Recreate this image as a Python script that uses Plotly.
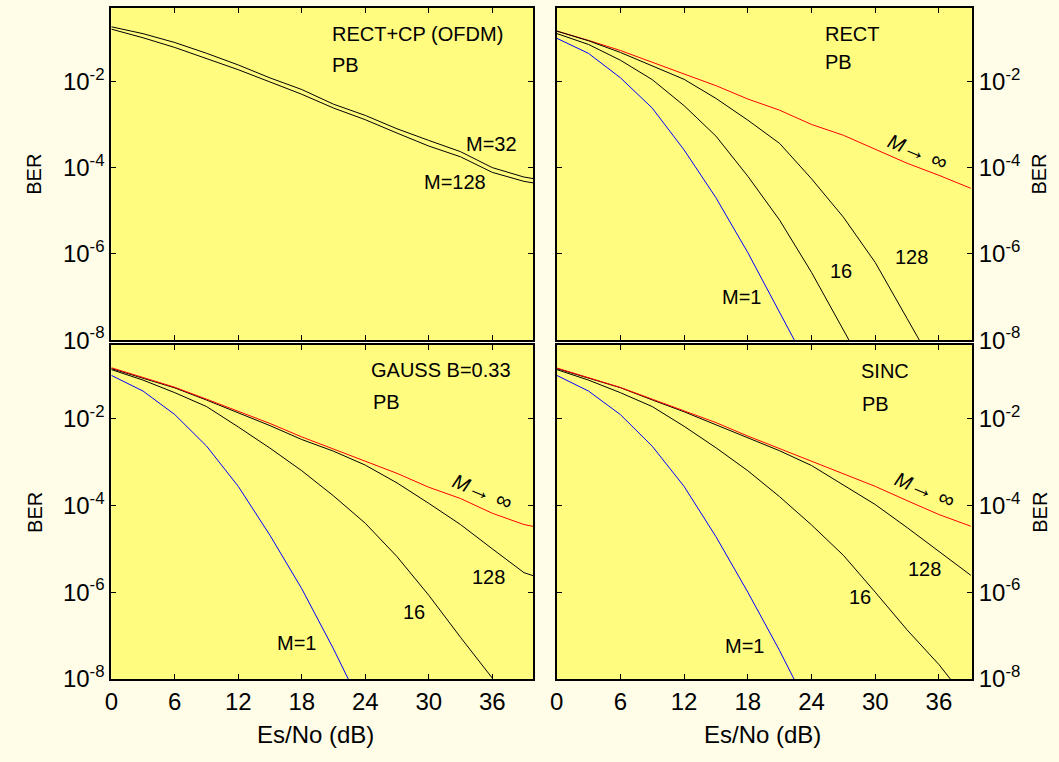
import plotly.graph_objects as go

# ---------------- data ----------------
snr = [0, 3, 6, 9, 12, 15, 18, 21, 24, 27, 30, 33, 36, 39]
snr_left = [0, 3, 6, 9, 12, 15, 18, 21, 24, 27, 30, 33, 36, 39, 40]

# Panel 1: RECT+CP (OFDM), PB
ofdm_m32 = [0.1841, 0.1274, 0.0794, 0.0447, 0.0240, 0.0120, 6.46e-3, 2.95e-3,
            1.62e-3, 7.94e-4, 4.27e-4, 2.34e-4, 1.00e-4, 6.03e-5, 5.50e-5]
ofdm_m128 = [0.1622, 0.1023, 0.0610, 0.0339, 0.0186, 9.66e-3, 5.01e-3, 2.40e-3,
             1.29e-3, 6.31e-4, 3.16e-4, 1.78e-4, 7.76e-5, 4.79e-5, 4.37e-5]

# Panel 2: RECT, PB
rect_m1 = [0.1, 0.04446, 0.01213, 2.40e-3, 2.57e-4, 2.0e-5, 1.07e-6, 4.47e-8, 1.78e-9]
rect_m16 = [0.1288, 0.0716, 0.0309, 0.01096, 2.73e-3, 5.37e-4, 6.31e-5, 6.03e-6,
            3.72e-7, 1.78e-8, 7.94e-10]
rect_m128 = [0.1466, 0.0871, 0.0468, 0.0232, 0.01112, 4.02e-3, 1.26e-3, 3.63e-4,
             5.5e-5, 7.08e-6, 6.31e-7, 3.16e-8, 1.58e-9]
rect_inf = [0.1466, 0.0891, 0.0519, 0.0282, 0.01479, 7.94e-3, 3.89e-3, 2.14e-3,
            1.0e-3, 5.62e-4, 2.63e-4, 1.26e-4, 6.61e-5, 3.31e-5]

# Panel 3: GAUSS B=0.33, PB
gauss_m1 = [0.1, 0.04335, 0.01245, 2.34e-3, 2.75e-4, 2.04e-5, 1.2e-6, 4.9e-8, 1.58e-9]
gauss_m16 = [0.1358, 0.0776, 0.0398, 0.01905, 6.46e-3, 2.09e-3, 6.31e-4, 1.66e-4,
             3.89e-5, 6.61e-6, 8.51e-7, 9.12e-8, 1.05e-8, 5.0e-10]
gauss_m128 = [0.1432, 0.0851, 0.0513, 0.0269, 0.0138, 6.92e-3, 3.31e-3, 1.78e-3,
              8.51e-4, 3.31e-4, 1.12e-4, 3.63e-5, 1.0e-5, 2.82e-6, 2.34e-6]
gauss_inf = [0.1496, 0.0891, 0.0531, 0.0282, 0.01479, 7.76e-3, 3.80e-3, 2.0e-3,
             1.07e-3, 5.50e-4, 2.63e-4, 1.445e-4, 6.61e-5, 3.63e-5, 3.24e-5]

# Panel 4: SINC, PB
sinc_m1 = [0.1, 0.04335, 0.01245, 2.32e-3, 2.75e-4, 1.905e-5, 1.0e-6, 4.47e-8, 1.58e-9]
sinc_m16 = [0.1358, 0.0776, 0.0398, 0.01905, 6.68e-3, 2.14e-3, 6.31e-4, 1.585e-4,
            3.55e-5, 7.08e-6, 1.0e-6, 1.35e-7, 2.14e-8, 2.51e-9]
sinc_m128 = [0.1432, 0.0851, 0.0519, 0.0271, 0.01445, 7.24e-3, 3.63e-3, 1.82e-3,
             8.32e-4, 2.95e-4, 1.05e-4, 3.09e-5, 8.91e-6, 2.45e-6]
sinc_inf = [0.1479, 0.0891, 0.0525, 0.0282, 0.01514, 8.13e-3, 3.98e-3, 2.04e-3,
            1.07e-3, 5.50e-4, 2.75e-4, 1.29e-4, 6.17e-5, 3.31e-5]

x_ticks = [0, 6, 12, 18, 24, 30, 36]
y_ticks = [1e-2, 1e-4, 1e-6, 1e-8]
y_ticktext = ["10<sup>-2</sup>", "10<sup>-4</sup>", "10<sup>-6</sup>", "10<sup>-8</sup>"]

panel_titles = ["RECT+CP (OFDM)", "RECT", "GAUSS B=0.33", "SINC"]

# ---------------- styling ----------------
FONT = "Liberation Sans, Arial, Helvetica, sans-serif"
BLUE, RED, BLACK = "#0000FF", "#FF0000", "#000000"
BG_OUT = "#FFFDE8"
W, H = 1059, 762
TICK_SIZE = 24

fig = go.Figure()


def add_line(x, y, color, xa, ya):
    fig.add_trace(go.Scatter(x=x[:len(y)], y=y, mode="lines",
                             line=dict(color=color, width=1),
                             xaxis=xa, yaxis=ya, showlegend=False,
                             hoverinfo="skip"))


# panel 1
add_line(snr_left, ofdm_m32, BLACK, "x", "y")
add_line(snr_left, ofdm_m128, BLACK, "x", "y")
# panel 2
add_line(snr, rect_inf, RED, "x2", "y2")
add_line(snr, rect_m128, BLACK, "x2", "y2")
add_line(snr, rect_m16, BLACK, "x2", "y2")
add_line(snr, rect_m1, BLUE, "x2", "y2")
# panel 3
add_line(snr_left, gauss_m128, BLACK, "x3", "y3")
add_line(snr_left, gauss_m16, BLACK, "x3", "y3")
add_line(snr_left, gauss_inf, RED, "x3", "y3")
add_line(snr_left, gauss_m1, BLUE, "x3", "y3")
# panel 4
add_line(snr, sinc_m128, BLACK, "x4", "y4")
add_line(snr, sinc_m16, BLACK, "x4", "y4")
add_line(snr, sinc_inf, RED, "x4", "y4")
add_line(snr, sinc_m1, BLUE, "x4", "y4")

dom_left = [105 / W, 530 / W]
dom_right = [553.3 / W, 971.3 / W]
dom_top = [(H - 346) / H, (H - 8.2) / H]
dom_bot = [(H - 690.7) / H, (H - 351) / H]


def xaxis(domain, anchor, rng, labels):
    return dict(domain=domain, anchor=anchor, range=rng, tickvals=x_ticks,
                showticklabels=labels, ticks="inside", ticklen=5, tickwidth=1,
                tickcolor=BLACK, showline=True, linecolor=BLACK, linewidth=2,
                mirror="ticks", showgrid=False, zeroline=False,
                tickfont=dict(family=FONT, size=TICK_SIZE, color=BLACK))


def yaxis(domain, anchor, side):
    return dict(domain=domain, anchor=anchor, type="log", range=[-8, -0.301],
                tickvals=y_ticks, ticktext=y_ticktext, side=side,
                ticks="inside", ticklen=5, tickwidth=1, tickcolor=BLACK,
                showline=True, linecolor=BLACK, linewidth=2, mirror="ticks",
                showgrid=False, zeroline=False,
                tickfont=dict(family=FONT, size=TICK_SIZE, color=BLACK))


fig.update_layout(
    width=W, height=H,
    margin=dict(l=0, r=0, t=0, b=0),
    paper_bgcolor=BG_OUT,
    plot_bgcolor="#FFFC80",
    font=dict(family=FONT, color=BLACK),
    xaxis=xaxis(dom_left, "y", [0, 39.9], False),
    yaxis=yaxis(dom_top, "x", "left"),
    xaxis2=xaxis(dom_right, "y2", [0, 39.1], False),
    yaxis2=yaxis(dom_top, "x2", "right"),
    xaxis3=xaxis(dom_left, "y3", [0, 39.9], True),
    yaxis3=yaxis(dom_bot, "x3", "left"),
    xaxis4=xaxis(dom_right, "y4", [0, 39.1], True),
    yaxis4=yaxis(dom_bot, "x4", "right"),
)

ann = []


def txt(text, x, y, xr, yr, xanchor="center", angle=0, size=20):
    ann.append(dict(text=text, x=x, y=y, xref=xr, yref=yr, xanchor=xanchor,
                    yanchor="middle", showarrow=False, textangle=angle,
                    font=dict(family=FONT, size=size, color=BLACK)))


inf_label = ("<i>M</i><span style='font-size:24px'>\u2192</span>"
             "<span style='font-size:22px'> \u221e</span>")

# panel 1
txt(panel_titles[0], 20.66, -0.91, "x", "y", "left")
txt("PB", 20.66, -1.63, "x", "y", "left")
txt("M=32", 33.3, -3.45, "x", "y", "left")
txt("M=128", 29.4, -4.34, "x", "y", "left")
# panel 2
txt(panel_titles[1], 25.1, -0.91, "x2", "y2", "left")
txt("PB", 25.1, -1.56, "x2", "y2", "left")
txt(inf_label, 34.05, -3.61, "x2", "y2", angle=23)
txt("128", 33.43, -6.07, "x2", "y2")
txt("16", 26.8, -6.39, "x2", "y2")
txt("M=1", 17.37, -7.01, "x2", "y2")
# panel 3
txt(panel_titles[2], 24.4, -0.87, "x3", "y3", "left")
txt("PB", 24.57, -1.61, "x3", "y3", "left")
txt(inf_label, 35.1, -3.65, "x3", "y3", angle=23)
txt("128", 35.68, -5.65, "x3", "y3")
txt("16", 28.6, -6.46, "x3", "y3")
txt("M=1", 17.53, -7.18, "x3", "y3")
# panel 4
txt(panel_titles[3], 28.44, -0.91, "x4", "y4", "left")
txt("PB", 28.6, -1.65, "x4", "y4", "left")
txt(inf_label, 34.68, -3.62, "x4", "y4", angle=23)
txt("128", 34.68, -5.46, "x4", "y4")
txt("16", 28.55, -6.11, "x4", "y4")
txt("M=1", 17.68, -7.25, "x4", "y4")

# axis titles
txt("Es/No (dB)", 311 / W, (H - 747) / H, "paper", "paper", size=24)
txt("Es/No (dB)", 760.7 / W, (H - 747) / H, "paper", "paper", size=24)
txt("BER", 27.5 / W, (H - 177.5) / H, "paper", "paper", angle=-90, size=20)
txt("BER", 27.5 / W, (H - 521.5) / H, "paper", "paper", angle=-90, size=20)
txt("BER", 1039 / W, (H - 177.5) / H, "paper", "paper", angle=-90, size=20)
txt("BER", 1039 / W, (H - 521.5) / H, "paper", "paper", angle=-90, size=20)

fig.update_layout(annotations=ann)
fig.write_html(
    "out.html",
    config={"displayModeBar": False},
    post_script=("document.body.style.margin='0';"
                 "document.body.style.padding='0';"
                 "document.body.style.background='" + BG_OUT + "';"),
)
